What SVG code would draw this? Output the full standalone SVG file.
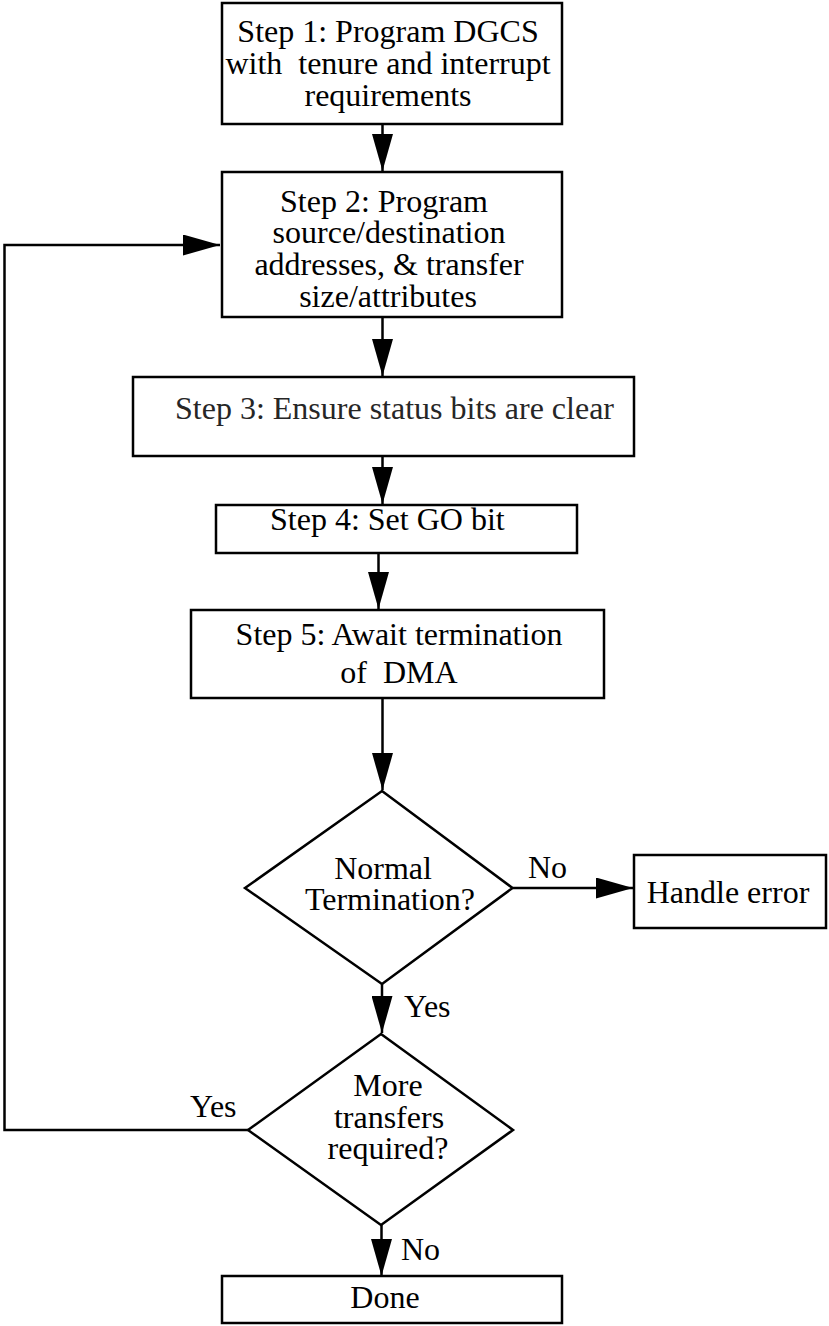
<svg xmlns="http://www.w3.org/2000/svg" width="829" height="1326" viewBox="0 0 829 1326">
<style>
  .box { fill: #fff; stroke: #000; stroke-width: 2.5; }
  .ln { fill: none; stroke: #000; stroke-width: 2.5; }
  .t { font-family: "Liberation Serif", "Times New Roman", serif; font-size: 32px; fill: #000; }
  .c { text-anchor: middle; }
  .grey { fill: #262626; }
</style>
<defs>
  <marker id="ah" viewBox="0 0 37 21" refX="37" refY="10.5" markerWidth="37" markerHeight="21" markerUnits="userSpaceOnUse" orient="auto">
    <path d="M0,0 L37,10.5 L0,21 Z" fill="#000"/>
  </marker>
</defs>
<rect width="829" height="1326" fill="#fff"/>
<g id="connectors">
  <line class="ln" x1="382.5" y1="124" x2="382.5" y2="171" marker-end="url(#ah)"/>
  <line class="ln" x1="382.5" y1="317" x2="382.5" y2="376" marker-end="url(#ah)"/>
  <line class="ln" x1="382.5" y1="456" x2="382.5" y2="504" marker-end="url(#ah)"/>
  <line class="ln" x1="378.5" y1="553" x2="378.5" y2="609" marker-end="url(#ah)"/>
  <line class="ln" x1="382.5" y1="698" x2="382.5" y2="790" marker-end="url(#ah)"/>
  <line class="ln" x1="512.5" y1="888" x2="633" y2="888" marker-end="url(#ah)"/>
  <line class="ln" x1="382" y1="984" x2="382" y2="1033" marker-end="url(#ah)"/>
  <line class="ln" x1="381.5" y1="1225" x2="381.5" y2="1276" marker-end="url(#ah)"/>
  <polyline class="ln" points="248,1130 4.5,1130 4.5,245 220,245" marker-end="url(#ah)"/>
  <text class="t" x="528" y="878">No</text>
  <text class="t" x="404" y="1017">Yes</text>
  <text class="t" x="190" y="1117">Yes</text>
  <text class="t" x="401" y="1260">No</text>
</g>
<g id="step1">
  <rect class="box" x="222" y="3" width="340" height="121"/>
  <text class="t c" x="388" y="42">Step 1: Program DGCS</text>
  <text class="t c" x="388" y="74" xml:space="preserve">with  tenure and interrupt</text>
  <text class="t c" x="388" y="106">requirements</text>
</g>
<g id="step2">
  <rect class="box" x="222" y="172" width="340" height="145"/>
  <text class="t c" x="388" y="212" xml:space="preserve">Step 2: Program </text>
  <text class="t c" x="389" y="243">source/destination</text>
  <text class="t c" x="389" y="275">addresses, &amp; transfer</text>
  <text class="t c" x="388" y="307">size/attributes</text>
</g>
<g id="step3">
  <rect class="box" x="133" y="377" width="501" height="79"/>
  <text class="t grey" x="175" y="419">Step 3: Ensure status bits are clear</text>
</g>
<g id="step4">
  <rect class="box" x="216" y="505" width="361" height="48"/>
  <text class="t" x="270" y="530">Step 4: Set GO bit</text>
</g>
<g id="step5">
  <rect class="box" x="191" y="610" width="413" height="88"/>
  <text class="t c" x="399" y="645">Step 5: Await termination</text>
  <text class="t c" x="399" y="683" xml:space="preserve">of  DMA</text>
</g>
<g id="normal-termination">
  <polygon class="box" points="382,791 512.5,888 382,984 245,888"/>
  <text class="t c" x="383" y="879">Normal</text>
  <text class="t c" x="390" y="910">Termination?</text>
</g>
<g id="handle-error">
  <rect class="box" x="634" y="855" width="192" height="73"/>
  <text class="t c" x="728" y="903">Handle error</text>
</g>
<g id="more-transfers">
  <polygon class="box" points="381,1034 513,1130 381,1225 248,1130"/>
  <text class="t c" x="388" y="1096">More</text>
  <text class="t c" x="389" y="1128">transfers</text>
  <text class="t c" x="388" y="1159">required?</text>
</g>
<g id="done">
  <rect class="box" x="222" y="1276" width="340" height="47"/>
  <text class="t c" x="385" y="1308">Done</text>
</g>
</svg>
